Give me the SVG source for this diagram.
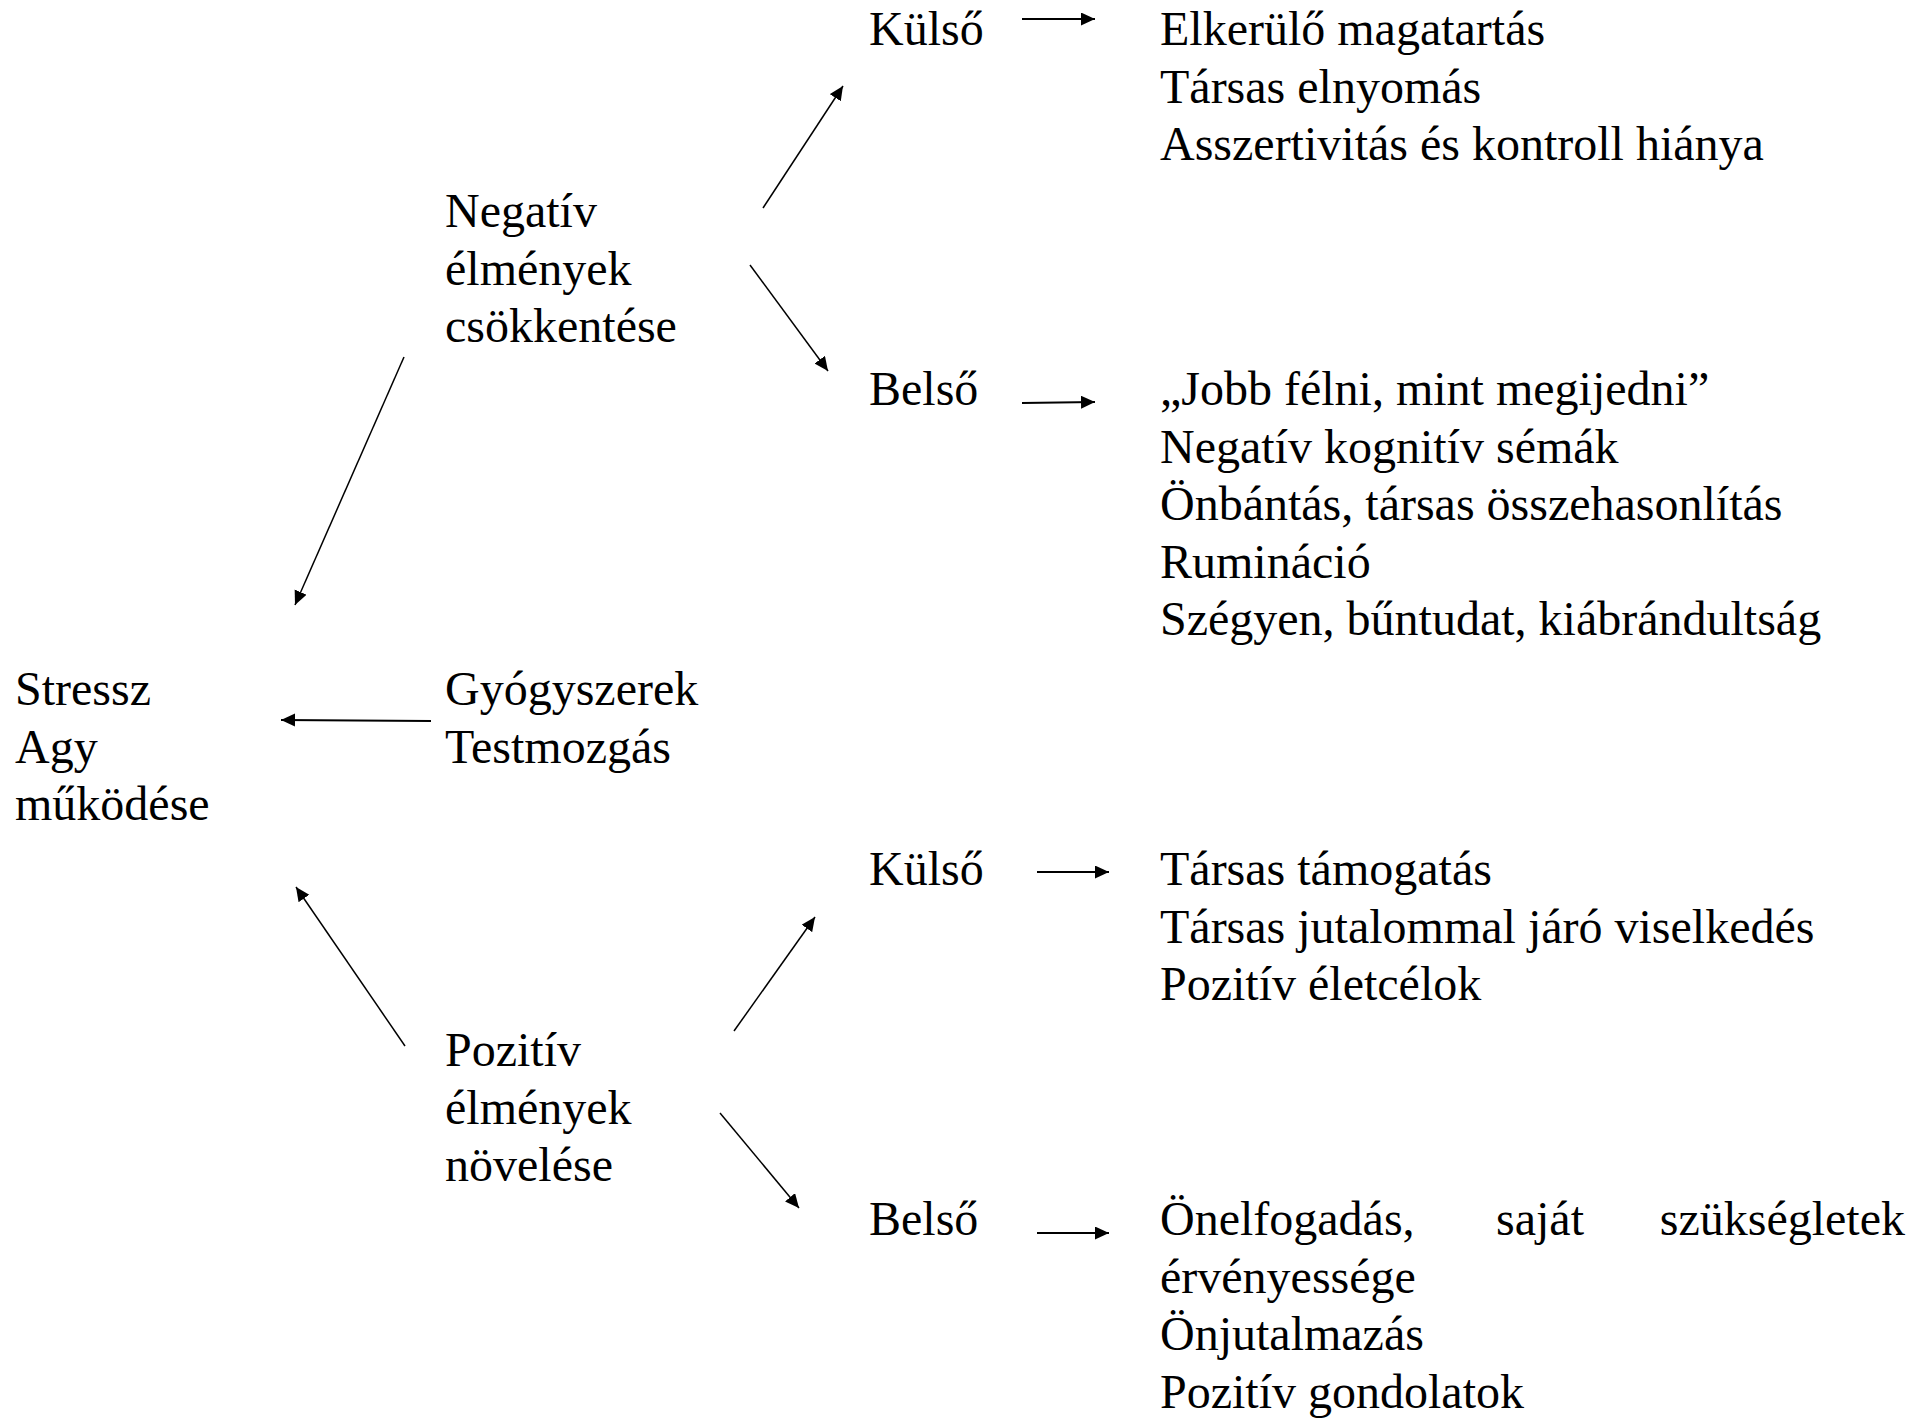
<svg xmlns="http://www.w3.org/2000/svg" width="1921" height="1428" viewBox="0 0 1921 1428">
<defs>
<marker id="ah" markerUnits="userSpaceOnUse" markerWidth="15" markerHeight="14" refX="14" refY="6.5" orient="auto">
<path d="M0,0 L14,6.5 L0,13 z" fill="#000"/>
</marker>
<style>
text{font-family:"Liberation Serif","Times New Roman",serif;font-size:48px;fill:#000}
.c line{stroke:#000;stroke-width:1.5;marker-end:url(#ah)}
.c line.h{stroke-width:2}
</style>
</defs>
<rect width="1921" height="1428" fill="#fff"/>
<g id="stressz">
<text x="15" y="705">Stressz</text>
<text x="15" y="762.6">Agy</text>
<text x="15" y="820.2">működése</text>
</g>
<g id="negativ">
<text x="445" y="227">Negatív</text>
<text x="445" y="284.6">élmények</text>
<text x="445" y="342.2">csökkentése</text>
</g>
<g id="gyogyszerek">
<text x="445" y="705">Gyógyszerek</text>
<text x="445" y="762.6">Testmozgás</text>
</g>
<g id="pozitiv">
<text x="445" y="1066">Pozitív</text>
<text x="445" y="1123.6">élmények</text>
<text x="445" y="1181.2">növelése</text>
</g>
<g id="kulso1"><text x="869" y="45">Külső</text></g>
<g id="belso1"><text x="869" y="405">Belső</text></g>
<g id="kulso2"><text x="869" y="885">Külső</text></g>
<g id="belso2"><text x="869" y="1235">Belső</text></g>
<g id="lista-kulso1">
<text x="1160" y="45">Elkerülő magatartás</text>
<text x="1160" y="102.6">Társas elnyomás</text>
<text x="1160" y="160.2">Asszertivitás és kontroll hiánya</text>
</g>
<g id="lista-belso1">
<text x="1160" y="405">„Jobb félni, mint megijedni”</text>
<text x="1160" y="462.6">Negatív kognitív sémák</text>
<text x="1160" y="520.2">Önbántás, társas összehasonlítás</text>
<text x="1160" y="577.8">Rumináció</text>
<text x="1160" y="635.4">Szégyen, bűntudat, kiábrándultság</text>
</g>
<g id="lista-kulso2">
<text x="1160" y="885">Társas támogatás</text>
<text x="1160" y="942.6">Társas jutalommal járó viselkedés</text>
<text x="1160" y="1000.2">Pozitív életcélok</text>
</g>
<g id="lista-belso2">
<text x="1160" y="1235">Önelfogadás,</text>
<text x="1496" y="1235">saját</text>
<text x="1905" y="1235" text-anchor="end">szükségletek</text>
<text x="1160" y="1292.6">érvényessége</text>
<text x="1160" y="1350.2">Önjutalmazás</text>
<text x="1160" y="1407.8">Pozitív gondolatok</text>
</g>
<g id="connectors" class="c">
<line x1="763" y1="208" x2="843" y2="86"/>
<line x1="750" y1="265" x2="828" y2="371"/>
<line x1="404" y1="357" x2="295" y2="605"/>
<line class="h" x1="431" y1="721" x2="281" y2="720"/>
<line x1="405" y1="1046" x2="296" y2="887"/>
<line x1="734" y1="1031" x2="815" y2="917"/>
<line x1="720" y1="1113" x2="799" y2="1208"/>
<line class="h" x1="1022" y1="19" x2="1095" y2="19"/>
<line class="h" x1="1022" y1="403" x2="1095" y2="402"/>
<line class="h" x1="1037" y1="872" x2="1109" y2="872"/>
<line class="h" x1="1037" y1="1233" x2="1109" y2="1233"/>
</g>
</svg>
